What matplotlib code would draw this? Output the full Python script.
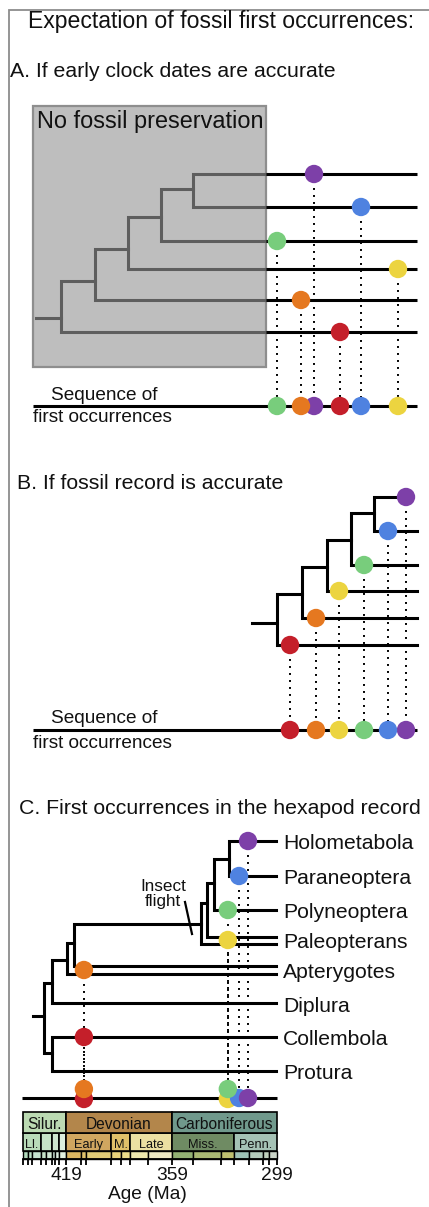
import matplotlib
matplotlib.use('Agg')
import matplotlib.pyplot as plt
from matplotlib.patches import Rectangle

plt.rcParams['font.family'] = ['Liberation Sans', 'DejaVu Sans']

# ---------------- data ----------------
palette = {'purple': '#7d40a8', 'blue': '#4f82e0', 'green': '#78cd7c',
           'yellow': '#ecd440', 'orange': '#e57820', 'red': '#c41f2a'}

# Panel A (tips top -> bottom) and their positions in the sequence of first occurrences
a_tip_colors = ['purple', 'blue', 'green', 'yellow', 'orange', 'red']
a_first_occ = [314, 361, 277, 398, 301, 340]

# Panel B
b_tip_colors = ['purple', 'blue', 'green', 'yellow', 'orange', 'red']
b_first_occ = [406, 388, 364, 339, 316, 290]

# Panel C: hexapod record (ages in Ma)
c_taxa = ['Holometabola', 'Paraneoptera', 'Polyneoptera', 'Paleopterans',
          'Apterygotes', 'Diplura', 'Collembola', 'Protura']
c_fo_colors = ['purple', 'blue', 'green', 'yellow', 'orange', 'red']
c_fo_age = [315.5, 320.6, 327.0, 327.0, 409.0, 409.0]

periods = ['Silur.', 'Devonian', 'Carboniferous']
period_bounds = [443.8, 419.2, 358.9, 298.9]
period_colors = ['#bbdab2', '#b3864b', '#70998c']

epochs = ['Ll.', '', '', '', 'Early', 'M.', 'Late', 'Miss.', 'Penn.']
epoch_bounds = [443.8, 433.4, 427.4, 423.0, 419.2, 393.3, 382.7, 358.9, 323.2, 298.9]
epoch_colors = ['#b9dbb9', '#c5e2c6', '#cde6cf', '#dbeedd',
                '#d0a660', '#e0c06a', '#ece0a2', '#6f8b63', '#a5c2b5']

stage_bounds = [443.8, 440.8, 438.5, 433.4, 430.5, 427.4, 425.6, 423.0, 419.2,
                410.8, 407.6, 393.3, 387.7, 382.7, 372.2, 358.9,
                346.7, 330.9, 323.2, 315.2, 307.0, 303.7, 298.9]
stage_colors = ['#b0d9bb', '#bbdfc6', '#c6e3d0', '#c6e3c8', '#d0e8d3', '#d1e9dc', '#dbeee0', '#e3f2e0',
                '#dcb661', '#dfc16b', '#e1cb77', '#e9d27a', '#ecdc89', '#eee8ae', '#efeac4',
                '#93b073', '#a9b873', '#bfc070', '#9fc2b6', '#b4cbbb', '#bfd0bc', '#cad4c8']

age_tick_ages = [419.2, 358.9, 298.9]
age_tick_labels = ['419', '359', '299']

# ---------------- figure ----------------
W, H = 429, 1207
fig = plt.figure(figsize=(W / 100, H / 100), dpi=100)
ax = fig.add_axes([0, 0, 1, 1])
ax.set_xlim(0, W)
ax.set_ylim(H, 0)
ax.axis('off')

BLK = '#000000'
LW = 2.2
DOT_S = 175
TXT = '#111111'
dotted = dict(color=BLK, lw=1.4, ls=(0, (1, 2.6)), dash_capstyle='butt', zorder=3)

# frame
ax.plot([8.5, 8.5, W], [H, 9.5, 9.5], color='#8c8c8c', lw=1.3, solid_joinstyle='miter')

# titles
ax.text(221, 28, 'Expectation of fossil first occurrences:', fontsize=16.6, ha='center', va='baseline', color=TXT)
ax.text(10, 77, 'A. If early clock dates are accurate', fontsize=15.3, ha='left', va='baseline', color=TXT)
ax.text(17, 489, 'B. If fossil record is accurate', fontsize=15.3, ha='left', va='baseline', color=TXT)
ax.text(19, 814, 'C. First occurrences in the hexapod record', fontsize=15.3, ha='left', va='baseline', color=TXT)


def seg(a, xs, ys, color=BLK, lw=LW, z=2):
    a.plot(xs, ys, color=color, lw=lw, solid_capstyle='projecting',
           solid_joinstyle='miter', zorder=z)


# ---------------- Panel A ----------------
ax.add_patch(Rectangle((33, 106), 233, 261, facecolor='#bebebe', edgecolor='#8e8e8e', lw=1.6, zorder=1))
ax.text(37, 128, 'No fossil preservation', fontsize=16.9, ha='left', va='baseline', color=TXT, zorder=2)
a_tips = [174, 207, 241, 269, 300, 332]
GR = '#5e5e5e'
BOX_R = 266
# gray tree inside box
seg(ax, [36, 61], [318, 318], GR)
seg(ax, [BOX_R, 61, 61, 95], [332, 332, 281, 281], GR)
seg(ax, [BOX_R, 95, 95, 128], [300, 300, 249, 249], GR)
seg(ax, [BOX_R, 128, 128, 161], [269, 269, 217, 217], GR)
seg(ax, [BOX_R, 161, 161, 193], [241, 241, 189, 189], GR)
seg(ax, [BOX_R, 193, 193, BOX_R], [174, 174, 207, 207], GR)
for y in a_tips:
    ax.plot([BOX_R, 417], [y, y], color=BLK, lw=LW, solid_capstyle='butt', zorder=2)
A_SEQ = 406
ax.plot([33, 417], [A_SEQ, A_SEQ], color=BLK, lw=LW, solid_capstyle='butt', zorder=2)
for y, x in zip(a_tips, a_first_occ):
    ax.plot([x, x], [y, A_SEQ], **dotted)
for y, x, c in zip(a_tips, a_first_occ, a_tip_colors):
    ax.scatter([x, x], [y, A_SEQ], s=DOT_S, color=palette[c], edgecolors='none', zorder=5)
ax.text(104, 400, 'Sequence of', fontsize=13.7, ha='center', va='baseline', color=TXT)
ax.text(33, 422, 'first occurrences', fontsize=13.7, ha='left', va='baseline', color=TXT)

# ---------------- Panel B ----------------
b_tips = [497, 531, 565, 591, 618, 645]
seg(ax, [252, 277], [623, 623])
seg(ax, [417, 277, 277, 302], [645, 645, 594, 594])
seg(ax, [417, 302, 302, 327], [618, 618, 567, 567])
seg(ax, [417, 327, 327, 351], [591, 591, 540, 540])
seg(ax, [417, 351, 351, 374], [565, 565, 513, 513])
seg(ax, [406, 374, 374, 417], [497, 497, 531, 531])
B_SEQ = 730
ax.plot([33, 417], [B_SEQ, B_SEQ], color=BLK, lw=LW, solid_capstyle='butt', zorder=2)
for y, x in zip(b_tips, b_first_occ):
    ax.plot([x, x], [y, B_SEQ], **dotted)
for y, x, c in zip(b_tips, b_first_occ, b_tip_colors):
    ax.scatter([x, x], [y, B_SEQ], s=DOT_S, color=palette[c], edgecolors='none', zorder=5)
ax.text(104, 723, 'Sequence of', fontsize=13.7, ha='center', va='baseline', color=TXT)
ax.text(33, 748, 'first occurrences', fontsize=13.7, ha='left', va='baseline', color=TXT)

# ---------------- Panel C (x in Ma) ----------------
axc = fig.add_axes([0, 0, 1, 1])
axc.set_xlim(456.81, 212.36)
axc.set_ylim(H, 0)
axc.axis('off')
axc.patch.set_alpha(0)

TIP = 299.5
# tree
seg(axc, [438.0, 431.7], [1016, 1016])
seg(axc, [427.2, 431.7, 431.7, 427.2], [983, 983, 1053, 1053])
seg(axc, [TIP, 427.2, 427.2, 418.6], [1003, 1003, 960, 960])
seg(axc, [TIP, 427.2, 427.2, TIP], [1037, 1037, 1071, 1071])
seg(axc, [TIP, 418.6, 418.6, 414.6], [974, 974, 943, 943])
seg(axc, [TIP, 414.6, 414.6, 342.3], [966, 966, 924, 924])
seg(axc, [TIP, 342.3, 342.3, 338.6], [944, 944, 903, 903])
seg(axc, [TIP, 338.6, 338.6, 334.6], [937, 937, 883, 883])
seg(axc, [TIP, 334.6, 334.6, 326.6], [910, 910, 859, 859])
seg(axc, [TIP, 326.6, 326.6, TIP], [841, 841, 876, 876])

label_y = [841, 876, 910, 940, 970, 1004, 1037, 1071]
for name, y in zip(c_taxa, label_y):
    axc.text(295.6, y + 8, name, fontsize=15.2, ha='left', va='baseline', color=TXT)

# insect flight annotation
axc.plot([351.4, 347.4], [902, 934], color=BLK, lw=1.6, zorder=2)
axc.text(363.9, 891, 'Insect', fontsize=12.3, ha='center', va='baseline', color=TXT)
axc.text(363.9, 906, 'flight', fontsize=12.3, ha='center', va='baseline', color=TXT)

# first occurrences
C_SEQ = 1098
axc.plot([444.3, 298.9], [C_SEQ, C_SEQ], color=BLK, lw=LW, solid_capstyle='butt', zorder=2)
tree_y = {'purple': 841, 'blue': 876, 'green': 910, 'yellow': 940, 'orange': 970, 'red': 1037}
seq_y = {'purple': 1098, 'blue': 1098, 'green': 1089, 'yellow': 1099, 'orange': 1089, 'red': 1099}
for c, age in zip(c_fo_colors, c_fo_age):
    axc.plot([age, age], [tree_y[c], seq_y[c]], **dotted)
draw_order = ['red', 'orange', 'yellow', 'blue', 'green', 'purple']
fo = dict(zip(c_fo_colors, c_fo_age))
for i, c in enumerate(draw_order):
    axc.scatter([fo[c]], [tree_y[c]], s=DOT_S, color=palette[c], edgecolors='none', zorder=5 + i)
    axc.scatter([fo[c]], [seq_y[c]], s=DOT_S, color=palette[c], edgecolors='none', zorder=5 + i)

# time scale
def row(bounds, colors, y0, h, lw=1.2):
    lefts = bounds[1:]
    widths = [b0 - b1 for b0, b1 in zip(bounds[:-1], bounds[1:])]
    axc.barh([y0 + h / 2] * len(widths), widths, left=lefts, height=h,
             color=colors, edgecolor=BLK, linewidth=lw, zorder=3)

row(stage_bounds, stage_colors, 1151, 8, lw=1.0)
row(epoch_bounds, epoch_colors, 1133, 18)
row(period_bounds, period_colors, 1112, 21)

for name, b0, b1 in zip(periods, period_bounds[:-1], period_bounds[1:]):
    axc.text((b0 + b1) / 2, 1129, name, fontsize=11.2, ha='center', va='baseline', color=TXT, zorder=6)
for name, b0, b1 in zip(epochs, epoch_bounds[:-1], epoch_bounds[1:]):
    if name:
        axc.text((b0 + b1) / 2, 1148, name, fontsize=9.2, ha='center', va='baseline', color=TXT, zorder=6)

for b in stage_bounds:
    axc.plot([b, b], [1159, 1165], color=BLK, lw=1.3, zorder=3, solid_capstyle='butt')
axc.plot([stage_bounds[0], stage_bounds[-1]], [1159, 1159], color=BLK, lw=1.3, zorder=3)
for a, lab in zip(age_tick_ages, age_tick_labels):
    axc.text(a, 1180, lab, fontsize=13.8, ha='center', va='baseline', color=TXT)
axc.text(373.0, 1199, 'Age (Ma)', fontsize=13.8, ha='center', va='baseline', color=TXT)

fig.savefig('out.png', dpi=100)
